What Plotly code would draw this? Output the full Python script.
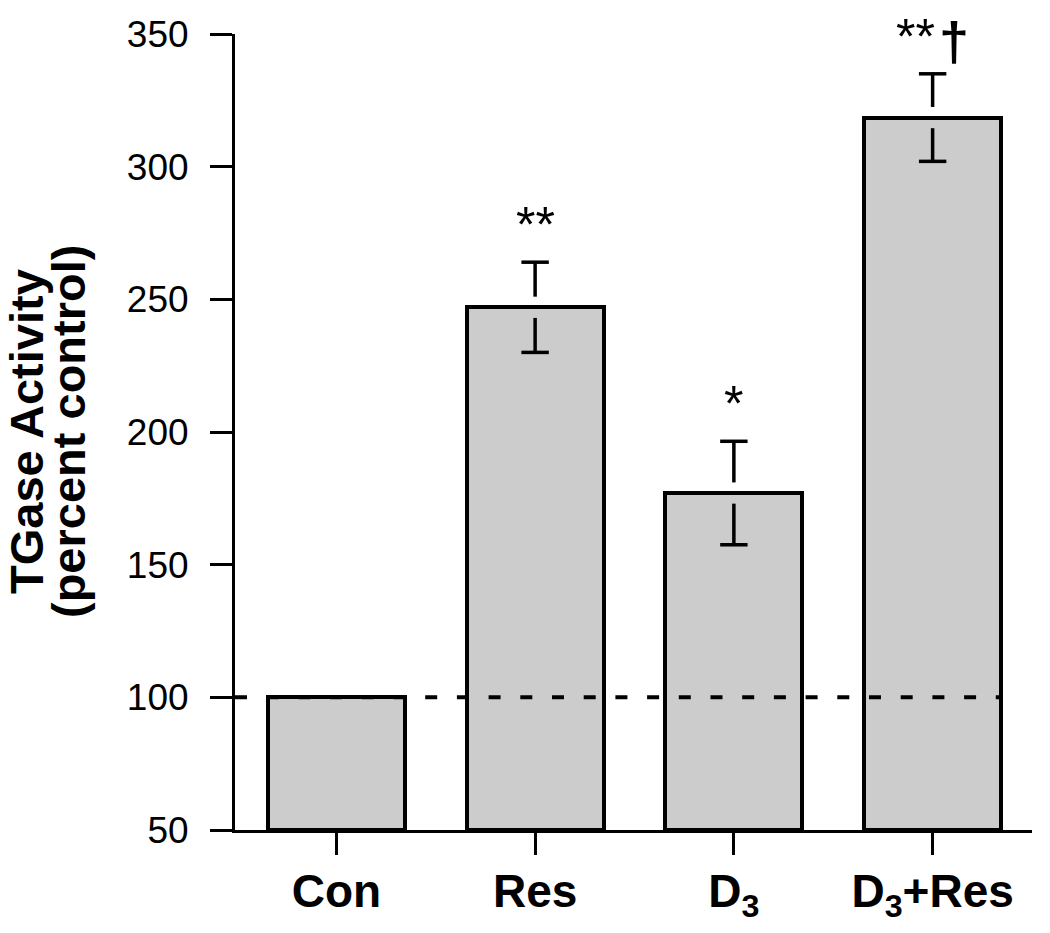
import plotly.graph_objects as go

# ---- data ----
categories = ["Con", "Res", "D<sub>3</sub>", "D<sub>3</sub>+Res"]
values = [100, 247, 177, 318.5]
errors = [0, 17, 19.5, 16.5]
sig_marks = ["", "**", "*", "**"]
dagger_marks = ["", "", "", "†"]
y_ticks = [50, 100, 150, 200, 250, 300, 350]
baseline_value = 100
y_min, y_max = 50, 350

# ---- style ----
FONT = "Liberation Sans, Arial, Helvetica, sans-serif"
BAR_W = 0.69
GAP = 4.0        # gap of the error stem around the bar top (data units)
CAP = 0.069      # half-width of error caps (data units)

xs = list(range(len(categories)))

fig = go.Figure()

fig.add_trace(go.Bar(
    x=xs,
    y=[v - y_min for v in values],
    base=y_min,
    width=BAR_W,
    marker=dict(color="#cccccc", line=dict(color="black", width=4)),
    showlegend=False,
    hoverinfo="skip",
))

# error stems (with small gap around bar top) and caps
stem_x, stem_y, cap_x, cap_y = [], [], [], []
for i, (v, e) in enumerate(zip(values, errors)):
    if e <= 0:
        continue
    stem_x += [i, i, None, i, i, None]
    stem_y += [v + GAP, v + e, None, v - GAP, v - e, None]
    cap_x += [i - CAP, i + CAP, None, i - CAP, i + CAP, None]
    cap_y += [v + e, v + e, None, v - e, v - e, None]

fig.add_trace(go.Scatter(x=stem_x, y=stem_y, mode="lines",
                         line=dict(color="black", width=3.5),
                         showlegend=False, hoverinfo="skip"))
fig.add_trace(go.Scatter(x=cap_x, y=cap_y, mode="lines",
                         line=dict(color="black", width=3.5),
                         showlegend=False, hoverinfo="skip"))

# dashed reference line at 100
fig.add_shape(type="line", xref="x", yref="y",
              x0=-0.51, x1=xs[-1] + BAR_W / 2,
              y0=baseline_value, y1=baseline_value,
              line=dict(color="black", width=4, dash="12px,19.7px"),
              layer="above")

annotations = []
for i, (v, e, s, d) in enumerate(zip(values, errors, sig_marks, dagger_marks)):
    if s:
        annotations.append(dict(
            x=i, y=v + e, xref="x", yref="y", text=s, showarrow=False,
            xanchor="center", yanchor="middle", yshift=37,
            xshift=-17 if d else 0,
            font=dict(family=FONT, size=50, color="black")))
    if d:
        annotations.append(dict(
            x=i, y=v + e, xref="x", yref="y", text="<b>" + d + "</b>",
            showarrow=False, xanchor="center", yanchor="middle",
            yshift=33, xshift=21,
            font=dict(family=FONT, size=54, color="black")))

# y-axis title as two rotated lines
annotations.append(dict(x=0, y=0.5, xref="paper", yref="paper",
                        text="<b>TGase Activity</b>", textangle=-90,
                        showarrow=False, xanchor="center", yanchor="middle",
                        xshift=-209,
                        font=dict(family=FONT, size=47, color="black")))
annotations.append(dict(x=0, y=0.5, xref="paper", yref="paper",
                        text="<b>(percent control)</b>", textangle=-90,
                        showarrow=False, xanchor="center", yanchor="middle",
                        xshift=-167,
                        font=dict(family=FONT, size=47, color="black")))

fig.update_layout(
    width=1050, height=933,
    margin=dict(l=235, r=18, t=34, b=103, pad=0, autoexpand=False),
    paper_bgcolor="white", plot_bgcolor="white",
    annotations=annotations,
    bargap=0,
    xaxis=dict(
        range=[-0.51, 3.5],
        tickvals=xs, ticktext=["<b>" + c + "</b>" for c in categories],
        showline=True, linecolor="black", linewidth=3,
        ticks="outside", ticklen=22, tickwidth=3, tickcolor="black",
        showgrid=False, zeroline=False, automargin=False,
        tickfont=dict(family=FONT, size=46, color="black"),
        ticklabelstandoff=-3,
    ),
    yaxis=dict(
        range=[y_min, y_max],
        tickvals=y_ticks,
        showline=True, linecolor="black", linewidth=3,
        ticks="outside", ticklen=22, tickwidth=3, tickcolor="black",
        showgrid=False, zeroline=False, automargin=False,
        tickfont=dict(family=FONT, size=37, color="black"),
        ticklabelstandoff=14,
    ),
)

# remove the browser's default 8px page margin so the figure fills the window
fig.write_html("out.html",
               config={"displayModeBar": False},
               post_script="document.body.style.margin='0px';"
                           "document.body.style.overflow='hidden';")
